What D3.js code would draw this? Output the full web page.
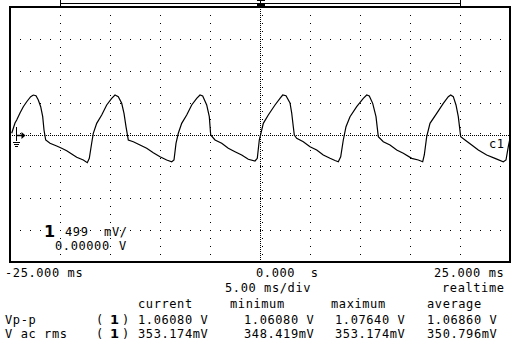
<!DOCTYPE html>
<html><head><meta charset="utf-8">
<script src="https://cdn.jsdelivr.net/npm/d3@7"></script>
<style>
html,body{margin:0;padding:0;background:#fff;}
svg{display:block;}
text{font-family:"DejaVu Sans Mono",monospace;font-size:12px;letter-spacing:0.6px;fill:#000;white-space:pre;}
</style></head>
<body>
<svg id="c" width="512" height="340"></svg>
<script>
// ---- data ----
const timePerDiv = 5;          // ms/div
const voltsPerDiv = 0.499;     // V/div
const channelLabel = "1";
const scaleText = "499  mV/";
const offsetText = "0.00000";
const offsetUnit = "V";
const traceName = "c1";
const timeLabels = ["-25.000 ms", "0.000  s", "25.000 ms"];
const timebaseText = "5.00 ms/div";
const modeText = "realtime";
const statHeaders = ["current", "minimum", "maximum", "average"];
const measureNames = ["Vp-p", "V ac rms"];
const vppValues = ["1.06080 V", "1.06080 V", "1.07640 V", "1.06860 V"];
const vrmsValues = ["353.174mV", "348.419mV", "353.174mV", "350.796mV"];
// waveform samples: time (ms) and voltage (V)
const traceT = [-24.83,-24.5,-24.33,-24.0,-23.67,-23.33,-22.93,-22.67,-22.4,-22.17,-21.93,-21.73,-21.6,-21.43,-21.0,-20.33,-19.83,-19.33,-18.83,-18.33,-17.67,-17.27,-17.07,-16.83,-16.67,-16.33,-15.83,-15.33,-14.83,-14.5,-14.17,-13.83,-13.6,-13.4,-13.17,-12.67,-12.0,-11.33,-10.67,-10.0,-9.33,-8.83,-8.6,-8.4,-8.17,-7.83,-7.33,-6.83,-6.33,-6.0,-5.73,-5.33,-5.07,-4.93,-4.5,-3.83,-3.17,-2.5,-1.83,-1.17,-0.5,-0.27,-0.07,0.17,0.33,0.83,1.5,2.0,2.27,2.6,3.0,3.17,3.33,3.43,3.67,4.33,5.0,5.67,6.33,7.0,7.5,7.83,8.07,8.33,8.6,9.0,9.67,10.33,10.67,10.93,11.27,11.6,11.83,12.33,13.0,13.67,14.33,15.17,15.83,16.27,16.43,16.67,17.0,17.67,18.33,18.83,19.07,19.33,19.6,19.83,20.07,20.5,21.17,21.83,22.67,23.5,24.33,24.6,24.83,25.0];
const traceV = [0.019,0.180,0.227,0.337,0.435,0.513,0.592,0.618,0.607,0.540,0.435,0.279,0.070,-0.086,-0.138,-0.180,-0.216,-0.254,-0.305,-0.357,-0.399,-0.441,-0.373,-0.133,0.019,0.175,0.305,0.462,0.567,0.618,0.592,0.488,0.332,0.122,-0.086,-0.113,-0.164,-0.216,-0.285,-0.348,-0.399,-0.426,-0.399,-0.138,0.019,0.175,0.305,0.462,0.567,0.618,0.603,0.462,0.279,-0.008,-0.086,-0.138,-0.216,-0.269,-0.321,-0.388,-0.415,-0.373,-0.086,0.070,0.175,0.305,0.462,0.567,0.618,0.607,0.493,0.337,0.122,-0.008,-0.059,-0.113,-0.191,-0.243,-0.321,-0.373,-0.407,-0.426,-0.348,-0.086,0.122,0.279,0.435,0.567,0.618,0.603,0.488,0.279,-0.034,-0.113,-0.164,-0.243,-0.294,-0.373,-0.399,-0.426,-0.321,-0.034,0.175,0.332,0.488,0.592,0.618,0.592,0.462,0.279,-0.034,-0.086,-0.164,-0.243,-0.321,-0.373,-0.426,-0.399,-0.191,-0.059];

// ---- drawing ----
const svg = d3.select("#c");
const L = 10, R = 510, T = 7, B = 262;
const x = d3.scaleLinear().domain([-5 * timePerDiv, 5 * timePerDiv]).range([L, R]);
const y = d3.scaleLinear().domain([-4 * voltsPerDiv, 4 * voltsPerDiv]).range([B, T]);

const g = svg.append("g");
// grid dots on vertical division lines
const vDivs = d3.range(-4, 5).filter(d => d !== 0).map(d => d * timePerDiv);
const vMinor = d3.range(-15, 16).map(k => k * voltsPerDiv / 4);
vDivs.forEach(t => {
  g.selectAll(null).data(vMinor).enter().append("rect")
    .attr("x", Math.round(x(t))).attr("y", d => Math.round(y(d)))
    .attr("width", 1).attr("height", 1).attr("fill", "#000");
});
// grid dots on horizontal division lines
const hDivs = [-3, -2, -1, 1, 2, 3].map(k => k * voltsPerDiv);
const hMinor = d3.range(-24, 25).map(k => k * timePerDiv / 5);
hDivs.forEach(v => {
  g.selectAll(null).data(hMinor).enter().append("rect")
    .attr("x", d => Math.round(x(d))).attr("y", Math.round(y(v)))
    .attr("width", 1).attr("height", 1).attr("fill", "#000");
});
// centre axes (dense dotted) with minor ticks
const cx = Math.round(x(0)), cy = Math.round(y(0));
g.append("line").attr("x1", cx + 0.5).attr("x2", cx + 0.5).attr("y1", T).attr("y2", B)
  .attr("stroke", "#000").attr("stroke-width", 1).attr("stroke-dasharray", "1,1");
g.append("line").attr("x1", L).attr("x2", R).attr("y1", cy + 0.5).attr("y2", cy + 0.5)
  .attr("stroke", "#000").attr("stroke-width", 1).attr("stroke-dasharray", "1,1");
g.selectAll(null).data(vMinor).enter().append("rect")
  .attr("x", cx + 2).attr("y", d => Math.round(y(d))).attr("width", 1).attr("height", 1).attr("fill", "#000");
g.selectAll(null).data(hMinor).enter().append("rect")
  .attr("x", d => Math.round(x(d))).attr("y", cy - 2).attr("width", 1).attr("height", 1).attr("fill", "#000");

// frame
svg.append("rect").attr("x", L).attr("y", T).attr("width", R - L).attr("height", B - T)
  .attr("fill", "none").attr("stroke", "#000").attr("stroke-width", 2);

// memory bar on top
const barY = 3.5;
svg.append("line").attr("x1", x(-20)).attr("x2", x(20)).attr("y1", barY).attr("y2", barY)
  .attr("stroke", "#000").attr("stroke-width", 1);
[-20, 20].forEach(t => svg.append("line").attr("x1", x(t) + 0.5).attr("x2", x(t) + 0.5)
  .attr("y1", 0).attr("y2", 7).attr("stroke", "#000").attr("stroke-width", 1));
svg.append("rect").attr("x", cx - 3).attr("y", 3).attr("width", 8).attr("height", 3).attr("fill", "#000");
svg.append("line").attr("x1", cx - 3).attr("x2", cx + 5).attr("y1", 0.5).attr("y2", 0.5).attr("stroke", "#000");
svg.append("line").attr("x1", cx + 0.5).attr("x2", cx + 0.5).attr("y1", 0).attr("y2", 3).attr("stroke", "#000");

// trace
const pts = traceT.map((t, i) => [t, traceV[i]]);
svg.append("path").datum(pts)
  .attr("d", d3.line().x(d => x(d[0])).y(d => y(d[1])))
  .attr("fill", "none").attr("stroke", "#000").attr("stroke-width", 1.2);

// ground marker
const gx = 16.5;
svg.append("line").attr("x1", gx).attr("x2", gx).attr("y1", cy - 8).attr("y2", cy + 6).attr("stroke", "#000");
svg.append("line").attr("x1", gx).attr("x2", gx + 6).attr("y1", cy + 0.5).attr("y2", cy + 0.5).attr("stroke", "#000").attr("stroke-width", 1.5);
svg.append("path").attr("d", `M${gx + 5},${cy - 3} L${gx + 9},${cy + 0.5} L${gx + 5},${cy + 4} Z`).attr("fill", "#000");
[[7, 6], [9, 4], [11, 2]].forEach(([dy, w]) => svg.append("line")
  .attr("x1", gx - w / 2 - 0.5).attr("x2", gx + w / 2 + 0.5).attr("y1", cy + dy + 0.5).attr("y2", cy + dy + 0.5).attr("stroke", "#000"));

// trace label
svg.append("text").attr("x", 489).attr("y", 148).text(traceName);

// channel scale box
svg.append("text").attr("x", 44).attr("y", 237).style("font-family", "DejaVu Sans").style("font-weight", "bold")
  .style("font-size", "16px").style("letter-spacing", "0px").text(channelLabel);
svg.append("text").attr("x", 65).attr("y", 236).text(scaleText);
svg.append("text").attr("x", 55).attr("y", 250).text(offsetText);
svg.append("text").attr("x", 119).attr("y", 250).text(offsetUnit);

// bottom readout
const rows = [277, 292, 308, 324, 338];
svg.append("text").attr("x", 5).attr("y", rows[0]).text(timeLabels[0]);
svg.append("text").attr("x", 256).attr("y", rows[0]).text(timeLabels[1]);
svg.append("text").attr("x", 434).attr("y", rows[0]).text(timeLabels[2]);
svg.append("text").attr("x", 225).attr("y", rows[1]).text(timebaseText);
svg.append("text").attr("x", 442).attr("y", rows[1]).text(modeText);
const colX = [138, 244, 335, 427];
const hdrX = [138, 230, 331, 427];
statHeaders.forEach((h, i) => svg.append("text").attr("x", hdrX[i]).attr("y", rows[2]).text(h));
[vppValues, vrmsValues].forEach((vals, r) => {
  const yy = rows[3 + r];
  svg.append("text").attr("x", 5).attr("y", yy).text(measureNames[r]);
  svg.append("text").attr("x", 96).attr("y", yy).text("(");
  svg.append("text").attr("x", 110).attr("y", yy).style("font-family", "DejaVu Sans").style("font-weight", "bold")
    .style("font-size", "13px").style("letter-spacing", "0px").text(channelLabel);
  svg.append("text").attr("x", 122).attr("y", yy).text(")");
  vals.forEach((v, i) => svg.append("text").attr("x", colX[i]).attr("y", yy).text(v));
});
</script>
</body></html>
